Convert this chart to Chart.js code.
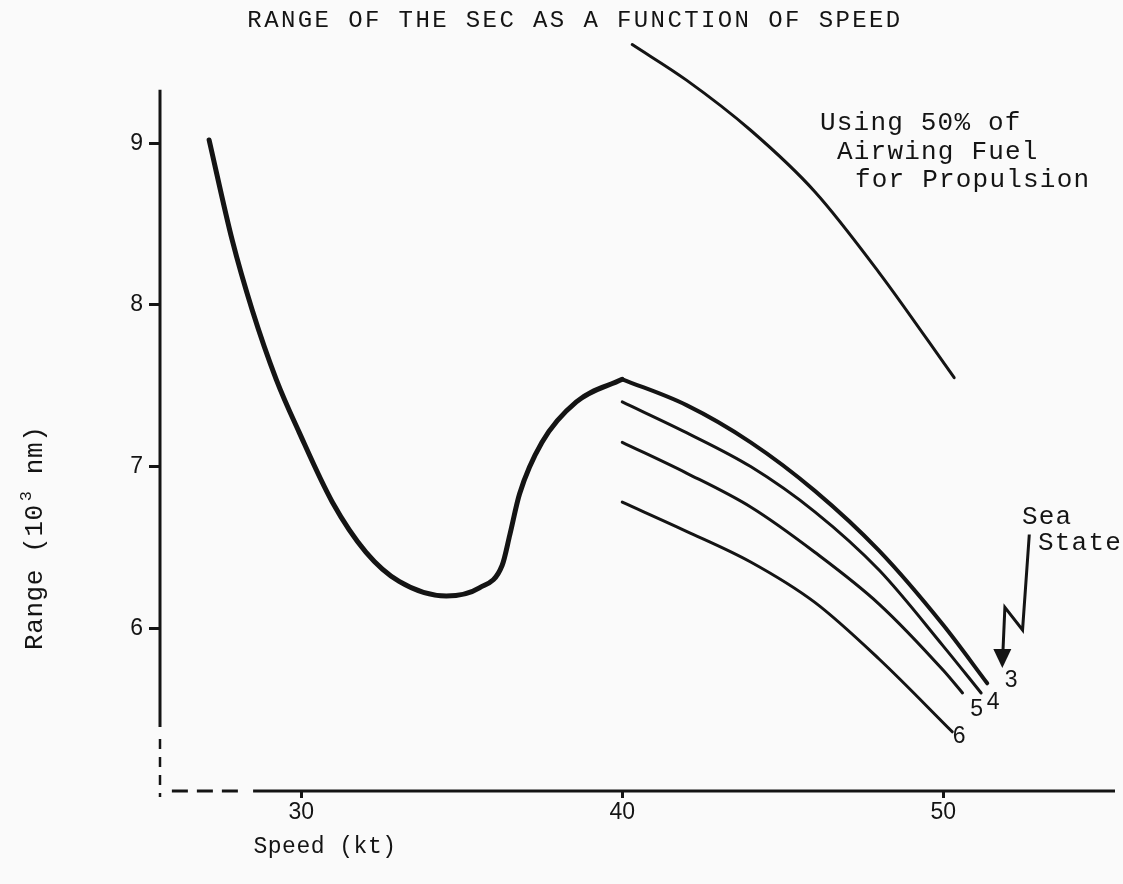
<!DOCTYPE html>
<html>
<head>
<meta charset="utf-8">
<script src="https://cdn.jsdelivr.net/npm/chart.js@4.4.0/dist/chart.umd.min.js"></script>
<style>
  html, body { margin: 0; padding: 0; background: #fafafa; }
  #wrap { width: 1123px; height: 884px; }
</style>
</head>
<body>
<div id="wrap"><canvas id="c" width="1123" height="884"></canvas></div>
<script>
// Axis ticks
const speedTicks = [30, 40, 50];
const rangeTicks = [6, 7, 8, 9];

// Range (10^3 nm) vs speed (kt), sea state 3 hull curve up to the 40 kt hump
const humpSpeed = [27.13, 27.85, 28.47, 29.22, 29.94, 30.97, 32.02, 33.05, 34.52, 35.55, 36.26, 36.5, 36.8, 37.5, 38.57, 40.0];
const humpRange = [9.02, 8.40, 7.97, 7.54, 7.21, 6.78, 6.47, 6.29, 6.20, 6.25, 6.39, 6.58, 6.83, 7.15, 7.40, 7.54];

// Above 40 kt, one curve per sea state
const ss3Speed = [40.0, 42.0, 44.0, 46.0, 48.0, 50.0, 51.37];
const ss3Range = [7.54, 7.38, 7.15, 6.85, 6.48, 6.02, 5.66];

const ss4Speed = [40.0, 42.0, 44.0, 46.0, 48.0, 50.0, 51.18];
const ss4Range = [7.40, 7.21, 7.00, 6.72, 6.36, 5.89, 5.60];

const ss5Speed = [40.0, 42.0, 44.0, 46.0, 48.0, 50.0, 50.6];
const ss5Range = [7.15, 6.96, 6.75, 6.47, 6.15, 5.74, 5.60];

const ss6Speed = [40.0, 42.0, 44.0, 46.0, 48.0, 50.28];
const ss6Range = [6.78, 6.60, 6.41, 6.16, 5.81, 5.36];

// Using 50% of airwing fuel for propulsion
const fuelSpeed = [40.31, 42.0, 44.0, 46.0, 48.0, 50.34];
const fuelRange = [9.61, 9.39, 9.08, 8.70, 8.20, 7.55];

const seaStateLabels = ['3', '4', '5', '6'];

const INK = '#141414';
const MONO = '"Liberation Mono", "Courier New", monospace';
const SANS = '"Liberation Sans", Arial, sans-serif';

function pts(xs, ys) { return xs.map((x, i) => ({ x: x, y: ys[i] })); }

function curve(xs, ys, width) {
  return {
    data: pts(xs, ys),
    borderColor: INK,
    borderWidth: width,
    pointRadius: 0,
    fill: false,
    cubicInterpolationMode: 'monotone',
    borderCapStyle: 'round',
    borderJoinStyle: 'round'
  };
}

function spaced(ctx, px) {
  if ('letterSpacing' in ctx) ctx.letterSpacing = px + 'px';
}

const inkPlugin = {
  id: 'ink',
  beforeDraw(chart) {
    const c = chart.ctx;
    c.save();
    c.fillStyle = '#fafafa';
    c.fillRect(0, 0, chart.width, chart.height);
    c.restore();
  },
  afterDraw(chart) {
    const c = chart.ctx;
    const xs = chart.scales.x, ys = chart.scales.y;
    const X = v => xs.getPixelForValue(v);
    const Y = v => ys.getPixelForValue(v);
    const left = chart.chartArea.left;
    const base = chart.chartArea.bottom + 1;

    c.save();
    c.strokeStyle = INK;
    c.fillStyle = INK;
    c.lineCap = 'butt';

    // Vertical axis: solid, then broken toward the origin
    c.lineWidth = 3;
    c.beginPath(); c.moveTo(left, Y(9.33)); c.lineTo(left, Y(5.39)); c.stroke();
    c.lineWidth = 2.5;
    c.setLineDash([10, 8]);
    c.beginPath(); c.moveTo(left, Y(5.39) + 12); c.lineTo(left, base + 6); c.stroke();

    // Horizontal axis: broken near the origin, then solid
    c.setLineDash([16, 9]);
    c.lineWidth = 3;
    c.beginPath(); c.moveTo(X(25.97), base); c.lineTo(X(28.2), base); c.stroke();
    c.setLineDash([]);
    c.beginPath(); c.moveTo(X(28.5), base); c.lineTo(chart.chartArea.right, base); c.stroke();

    // Title
    c.font = '24px ' + MONO;
    spaced(c, 2.4);
    c.textAlign = 'center';
    c.textBaseline = 'middle';
    c.fillText('RANGE OF THE SEC AS A FUNCTION OF SPEED', 575, 21);

    // Fuel note
    c.font = '26px ' + MONO;
    spaced(c, 1.2);
    c.textAlign = 'left';
    c.fillText('Using 50% of', 820, 123);
    c.fillText('Airwing Fuel', 837, 152);
    c.fillText('for Propulsion', 855, 180);

    // Sea state note
    c.fillText('Sea', 1022, 517);
    c.fillText('State', 1038, 543);

    // Axis titles
    c.textAlign = 'center';
    c.font = '23px ' + MONO;
    spaced(c, 0.5);
    c.fillText('Speed (kt)', 325, 847);

    c.save();
    c.translate(35, 537);
    c.rotate(-Math.PI / 2);
    c.textAlign = 'left';
    c.font = '26px ' + MONO;
    spaced(c, 0.6);
    let tx = -113;
    const p1 = 'Range (10';
    c.fillText(p1, tx, 0);
    tx += c.measureText(p1).width + 3;
    c.font = '17px ' + MONO;
    c.fillText('3', tx, -9);
    tx += c.measureText('3').width;
    c.font = '26px ' + MONO;
    c.fillText(' nm)', tx, 0);
    c.restore();

    // Zigzag pointer to the sea state curves
    c.lineWidth = 3;
    c.lineJoin = 'miter';
    c.beginPath();
    c.moveTo(X(52.68), Y(6.58));
    c.lineTo(X(52.47), Y(5.99));
    c.lineTo(X(51.92), Y(6.13));
    c.lineTo(X(51.86), Y(5.86));
    c.stroke();
    const tipX = X(51.84), tipY = Y(5.755);
    c.beginPath();
    c.moveTo(tipX - 9, tipY - 19);
    c.lineTo(tipX + 9, tipY - 19);
    c.lineTo(tipX, tipY);
    c.closePath();
    c.fill();

    // Sea state numbers at the curve ends
    const ends = [
      [ss3Speed, ss3Range, 24, -3],
      [ss4Speed, ss4Range, 12, 10],
      [ss5Speed, ss5Range, 14, 17],
      [ss6Speed, ss6Range, 7, 5]
    ];
    c.font = '23px ' + SANS;
    spaced(c, 0);
    c.textAlign = 'center';
    c.textBaseline = 'middle';
    ends.forEach((e, i) => {
      const n = e[0].length - 1;
      c.fillText(seaStateLabels[i], X(e[0][n]) + e[2], Y(e[1][n]) + e[3]);
    });

    c.restore();
  }
};

new Chart(document.getElementById('c'), {
  type: 'line',
  data: {
    datasets: [
      curve(humpSpeed, humpRange, 5),
      curve(ss3Speed, ss3Range, 4),
      curve(ss4Speed, ss4Range, 3),
      curve(ss5Speed, ss5Range, 3),
      curve(ss6Speed, ss6Range, 3),
      curve(fuelSpeed, fuelRange, 3)
    ]
  },
  options: {
    responsive: false,
    animation: false,
    events: [],
    layout: { padding: { top: 30, right: 8, bottom: 0, left: 0 } },
    plugins: {
      legend: { display: false },
      tooltip: { enabled: false },
      title: { display: false }
    },
    scales: {
      x: {
        type: 'linear',
        min: 25.6,
        max: 55.35,
        afterFit(s) { s.height = 94; },
        afterBuildTicks(s) { s.ticks = speedTicks.map(v => ({ value: v })); },
        ticks: {
          font: { family: SANS, size: 23 },
          color: INK,
          padding: 1,
          maxRotation: 0,
          callback: v => String(v)
        },
        grid: { drawOnChartArea: false, drawTicks: true, tickLength: 8, color: INK, lineWidth: 3 },
        border: { display: false }
      },
      y: {
        type: 'linear',
        min: 5,
        max: 9.7,
        afterFit(s) { s.width = 160; },
        afterBuildTicks(s) { s.ticks = rangeTicks.map(v => ({ value: v })); },
        ticks: {
          font: { family: SANS, size: 23 },
          color: INK,
          padding: 6,
          callback: v => String(v)
        },
        grid: { drawOnChartArea: false, drawTicks: true, tickLength: 11, color: INK, lineWidth: 3 },
        border: { display: false }
      }
    }
  },
  plugins: [inkPlugin]
});
</script>
</body>
</html>
